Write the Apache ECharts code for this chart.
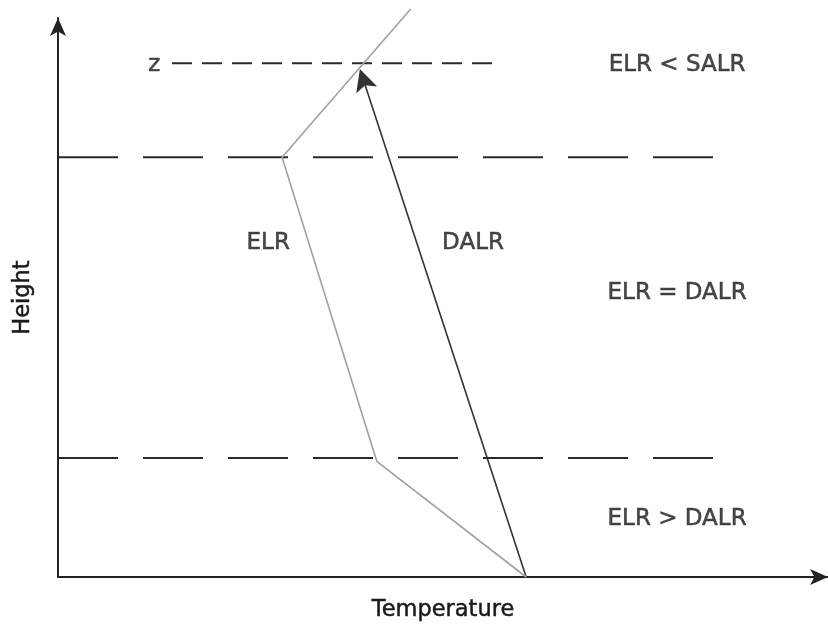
<!DOCTYPE html>
<html>
<head>
<meta charset="utf-8">
<script src="https://cdn.jsdelivr.net/npm/echarts@6/dist/echarts.min.js"></script>
<style>html,body{margin:0;padding:0;background:#fff}#c{width:828px;height:628px}</style>
</head>
<body>
<div id="c"></div>
<script>
// Abstract units: temperature 0-100 (x), height 0-100 (y)
const elrPoints = [[60.8, 0], [41.4, 20.7], [29.1, 75.1], [45.8, 101.6]];
const dalrPoints = [[60.8, 0], [39.65, 89.0]];
const levelHeights = [21.3, 75.1];
const levelExtent = [0, 85.3];
const zHeight = 91.9;
const zExtent = [14.8, 57.0];
const labelTexts = ['ELR', 'DALR', 'ELR < SALR', 'ELR = DALR', 'ELR > DALR', 'z'];
const labelPoints = [[27.3, 59.8], [53.9, 59.8], [80.4, 91.5], [80.4, 50.8], [80.4, 10.4], [12.5, 91.6]];
const xName = 'Temperature';
const yName = 'Height';

const FONT = 'DejaVu Sans';
const TXT = '#1a1a1a';
const chart = echarts.init(document.getElementById('c'), null, {renderer: 'canvas'});

const textStyle = {fontFamily: FONT, color: TXT, textBorderColor: TXT, textBorderWidth: 0.5};

const levelSeries = levelHeights.map(h => ({
  type: 'line', data: [[levelExtent[0], h], [levelExtent[1], h]],
  symbol: 'none', silent: true, clip: false,
  lineStyle: {color: '#2a2a2a', width: 2, type: [60, 25]}
}));

chart.setOption({
  animation: false,
  grid: {left: 58, right: 0, top: 18, bottom: 51},
  xAxis: {
    type: 'value', min: 0, max: 100,
    name: xName, nameLocation: 'middle', nameGap: 22,
    nameTextStyle: Object.assign({fontSize: 22.5, verticalAlign: 'top'}, textStyle),
    axisLine: {show: true, symbol: ['none', 'arrow'], symbolSize: [12, 18], lineStyle: {color: '#222', width: 2}},
    axisTick: {show: false}, axisLabel: {show: false}, splitLine: {show: false}
  },
  yAxis: {
    type: 'value', min: 0, max: 100,
    name: yName, nameLocation: 'middle', nameGap: 35, nameRotate: 90,
    nameTextStyle: Object.assign({fontSize: 22.5, verticalAlign: 'middle'}, textStyle),
    axisLine: {show: true, symbol: ['none', 'arrow'], symbolSize: [12, 18], lineStyle: {color: '#222', width: 2}},
    axisTick: {show: false}, axisLabel: {show: false}, splitLine: {show: false}
  },
  series: [
    ...levelSeries,
    {
      type: 'line', data: [[zExtent[0], zHeight], [zExtent[1], zHeight]],
      symbol: 'none', silent: true, clip: false,
      lineStyle: {color: '#2a2a2a', width: 2, type: [20, 10]}
    },
    {
      type: 'line', data: elrPoints, symbol: 'none', silent: true, clip: false,
      lineStyle: {color: '#a0a0a0', width: 1.6}
    },
    {
      type: 'lines', coordinateSystem: 'cartesian2d', silent: true,
      data: [{coords: dalrPoints}],
      symbol: ['none', 'path://M6,0 L12,22 L6,17 L0,22 Z'], symbolSize: 22, symbolKeepAspect: true,
      lineStyle: {color: '#333', width: 1.6, opacity: 1},
      itemStyle: {color: '#333'}
    },
    {
      type: 'scatter', symbolSize: 0, silent: true,
      data: labelPoints.map((p, i) => ({value: p, name: labelTexts[i]})),
      label: Object.assign({show: true, position: 'inside', formatter: '{b}', fontSize: 23}, textStyle)
    }
  ]
});
</script>
</body>
</html>
